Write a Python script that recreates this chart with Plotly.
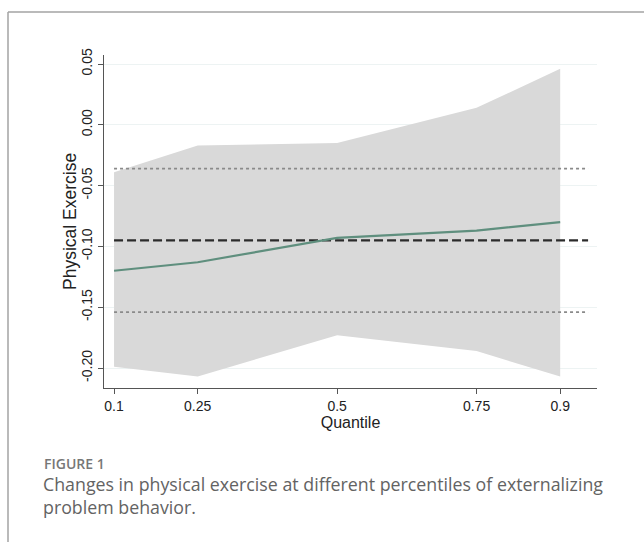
import plotly.graph_objects as go

# ---- data ----
quantiles = [0.1, 0.25, 0.5, 0.75, 0.9]
estimate = [-0.120, -0.113, -0.093, -0.087, -0.080]
ci_upper = [-0.039, -0.017, -0.015, 0.014, 0.046]
ci_lower = [-0.199, -0.207, -0.173, -0.186, -0.207]
ols_estimate = -0.095
ols_ci_upper = -0.036
ols_ci_lower = -0.154
ref_line_end = 0.95
x_ticks = [0.1, 0.25, 0.5, 0.75, 0.9]
x_ticktext = ["0.1", "0.25", "0.5", "0.75", "0.9"]
y_ticks = [-0.20, -0.15, -0.10, -0.05, 0.00, 0.05]
y_ticktext = ["-0.20", "-0.15", "-0.10", "-0.05", "0.00", "0.05"]

W, H = 644, 542
L, R, T, B = 104, 47, 55, 154
pw, ph = W - L - R, H - T - B


def px_x(px):
    return (px - L) / pw


def px_y(py):
    return (H - B - py) / ph


fig = go.Figure()

fig.add_trace(go.Scatter(x=quantiles, y=ci_upper, mode="lines",
                         line=dict(width=0, color="#d9d9d9"), showlegend=False,
                         hoverinfo="skip"))
fig.add_trace(go.Scatter(x=quantiles, y=ci_lower, mode="lines", fill="tonexty",
                         fillcolor="#d9d9d9", line=dict(width=0, color="#d9d9d9"),
                         showlegend=False, hoverinfo="skip"))

for val, dash, col, w in [(ols_ci_upper, "dot", "#8a8a8a", 1.6),
                          (ols_ci_lower, "dot", "#8a8a8a", 1.6),
                          (ols_estimate, "9px,4px", "#2b2b2b", 2.4)]:
    fig.add_trace(go.Scatter(x=[quantiles[0], ref_line_end], y=[val, val], mode="lines",
                             line=dict(color=col, width=w, dash=dash),
                             showlegend=False, hoverinfo="skip"))

fig.add_trace(go.Scatter(x=quantiles, y=estimate, mode="lines",
                         line=dict(color="#5f8f7e", width=2.2), showlegend=False))

font_axis = "Liberation Sans, Arial, sans-serif"

fig.update_xaxes(range=[0.082, 0.966], tickvals=x_ticks, ticktext=x_ticktext,
                 showgrid=False, zeroline=False, showline=True, linecolor="#555555",
                 linewidth=1.2, ticks="outside", ticklen=5, tickcolor="#555555",
                 tickfont=dict(family=font_axis, size=14, color="#222222"),
                 title=dict(text="Quantile", standoff=0,
                            font=dict(family=font_axis, size=16, color="#222222")))
fig.update_yaxes(range=[-0.2164, 0.0574], tickvals=y_ticks, ticktext=y_ticktext,
                 tickangle=-90, showgrid=True, gridcolor="#edf3f3", gridwidth=1,
                 zeroline=False, showline=True, linecolor="#555555", linewidth=1.2,
                 ticks="outside", ticklen=5, tickcolor="#555555",
                 tickfont=dict(family=font_axis, size=14, color="#222222"))

shapes = [
    dict(type="line", xref="paper", yref="paper", x0=px_x(8), x1=px_x(W + 5),
         y0=px_y(12), y1=px_y(12), line=dict(color="#a3a3a3", width=1.5)),
    dict(type="line", xref="paper", yref="paper", x0=px_x(8), x1=px_x(8),
         y0=px_y(12), y1=px_y(H + 5), line=dict(color="#a3a3a3", width=1.5)),
]

annotations = [
    dict(text="Physical Exercise", xref="paper", yref="paper", x=px_x(70), y=px_y(222),
         xanchor="center", yanchor="middle", textangle=-90, showarrow=False,
         font=dict(family=font_axis, size=17.5, color="#222222")),
    dict(text="FIGURE 1", xref="paper", yref="paper", x=px_x(42), y=px_y(463),
         xanchor="left", yanchor="middle", showarrow=False,
         font=dict(family="Open Sans, sans-serif", size=14, weight=600, color="#777777")),
    dict(text="Changes in physical exercise at different percentiles of externalizing",
         xref="paper", yref="paper", x=px_x(41), y=px_y(484),
         xanchor="left", yanchor="middle", showarrow=False,
         font=dict(family="Open Sans, sans-serif", size=17.8, color="#636363")),
    dict(text="problem behavior.", xref="paper", yref="paper", x=px_x(41), y=px_y(507),
         xanchor="left", yanchor="middle", showarrow=False,
         font=dict(family="Open Sans, sans-serif", size=17.8, color="#636363")),
]

fig.update_layout(width=W, height=H, margin=dict(l=L, r=R, t=T, b=B),
                  paper_bgcolor="white", plot_bgcolor="white",
                  shapes=shapes, annotations=annotations, showlegend=False)

fig.write_html("out.html", config={"displayModeBar": False},
               post_script="document.body.style.margin='0px';document.body.style.overflow='hidden';")
